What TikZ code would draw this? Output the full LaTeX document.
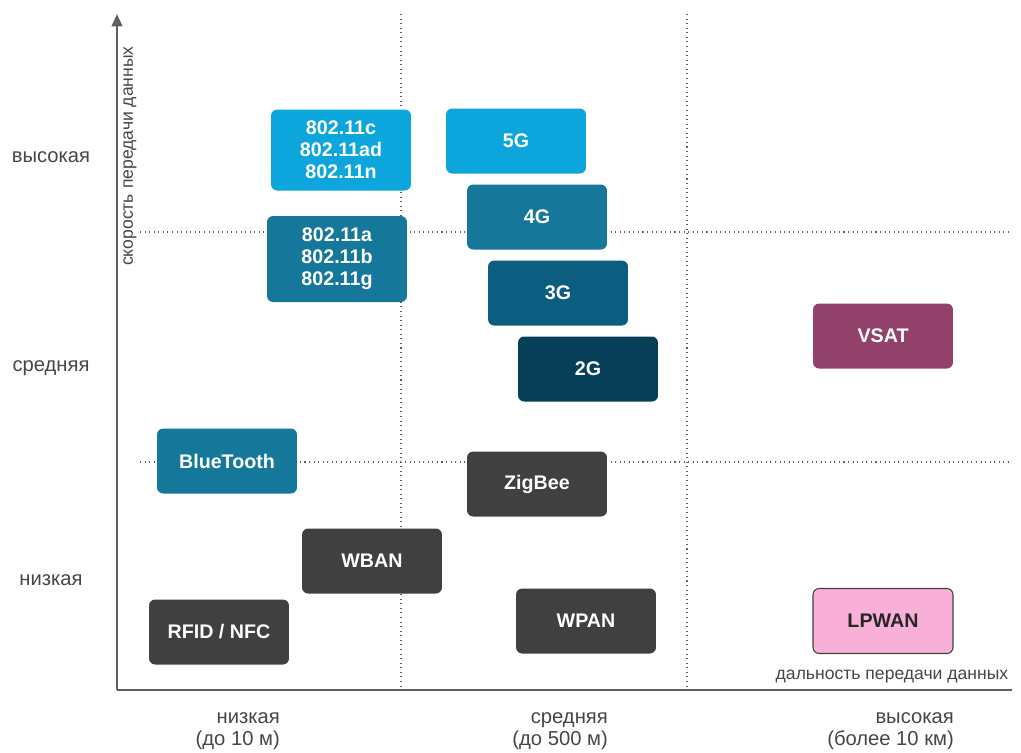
\documentclass[tikz,border=0pt]{standalone}
\usepackage{fontspec}
\setmainfont{Liberation Sans}
\usepackage{tikz}
\usetikzlibrary{arrows.meta}
\definecolor{wifilight}{RGB}{12,166,221}
\definecolor{wifimid}{RGB}{21,120,155}
\definecolor{gthree}{RGB}{12,94,128}
\definecolor{gtwo}{RGB}{6,63,87}
\definecolor{vsatc}{RGB}{146,66,106}
\definecolor{darkbox}{RGB}{64,64,64}
\definecolor{lpwanc}{RGB}{248,176,216}
\definecolor{axisc}{RGB}{95,95,95}
\definecolor{labelc}{RGB}{70,70,70}

\tikzset{
  tech/.style={rounded corners=3.5pt, minimum width=2.8cm, minimum height=1.3cm,
    text=white, font=\fontsize{11.2}{12.6}\selectfont\bfseries, align=center, inner sep=0pt},
  grid line/.style={axisc, dotted, line width=0.6pt},
  level/.style={labelc, font=\fontsize{11.5}{12.2}\selectfont}
}

\begin{document}
\begin{tikzpicture}[x=0.02cm,y=-0.02cm]
\useasboundingbox (0,0) rectangle (1021,752);

\coordinate (origin) at (117,690);
\coordinate (ytop) at (117,14);
\coordinate (xend) at (1012,690);

% grid
\draw[grid line] (401,14) -- (401,690);
\draw[grid line] (687,14) -- (687,690);
\draw[grid line] (140,232) -- (1012,232);
\draw[grid line] (140,462) -- (1012,462);

% axes
\draw[axisc, line width=1.2pt, -{Triangle[length=7pt,width=6pt]}] (origin) -- (ytop);
\draw[axisc, line width=1.2pt] (origin) -- (xend);

\node[level, rotate=90, font=\fontsize{10}{11}\selectfont] (ytitle) at (130,156) {скорость передачи данных};
\node[level, font=\fontsize{10}{11}\selectfont] (xtitle) at (892,677) {дальность передачи данных};

\node[level] (yhigh) at (51,157) {высокая};
\node[level] (ymid) at (51,368) {средняя};
\node[level] (ylow) at (51,580) {низкая};

\node[level, align=right, anchor=east] (xlow) at (286,731) {низкая\\(до 10 м)};
\node[level, align=right, anchor=east] (xmid) at (614,731) {средняя\\(до 500 м)};
\node[level, align=right, anchor=east] (xhigh) at (960,731) {высокая\\(более 10 км)};

% technologies
\node[tech, fill=wifilight, minimum height=1.62cm] (wifin) at (341,150) {802.11c\\802.11ad\\802.11n};
\node[tech, fill=wifimid, minimum height=1.72cm] (wifig) at (337,259) {802.11a\\802.11b\\802.11g};
\node[tech, fill=wifilight] (gfive) at (516,141) {5G};
\node[tech, fill=wifimid] (gfour) at (537,217) {4G};
\node[tech, fill=gthree] (gthr) at (558,293) {3G};
\node[tech, fill=gtwo] (gtw) at (588,369) {2G};
\node[tech, fill=vsatc] (vsat) at (883,336) {VSAT};
\node[tech, fill=wifimid] (bt) at (227,461) {BlueTooth};
\node[tech, fill=darkbox] (zigbee) at (537,484) {ZigBee};
\node[tech, fill=darkbox] (wban) at (372,561) {WBAN};
\node[tech, fill=darkbox] (rfid) at (219,632) {RFID / NFC};
\node[tech, fill=darkbox] (wpan) at (586,621) {WPAN};
\node[tech, fill=lpwanc, draw=darkbox, line width=0.6pt, text=black!85] (lpwan) at (883,621) {LPWAN};
\end{tikzpicture}
\end{document}
